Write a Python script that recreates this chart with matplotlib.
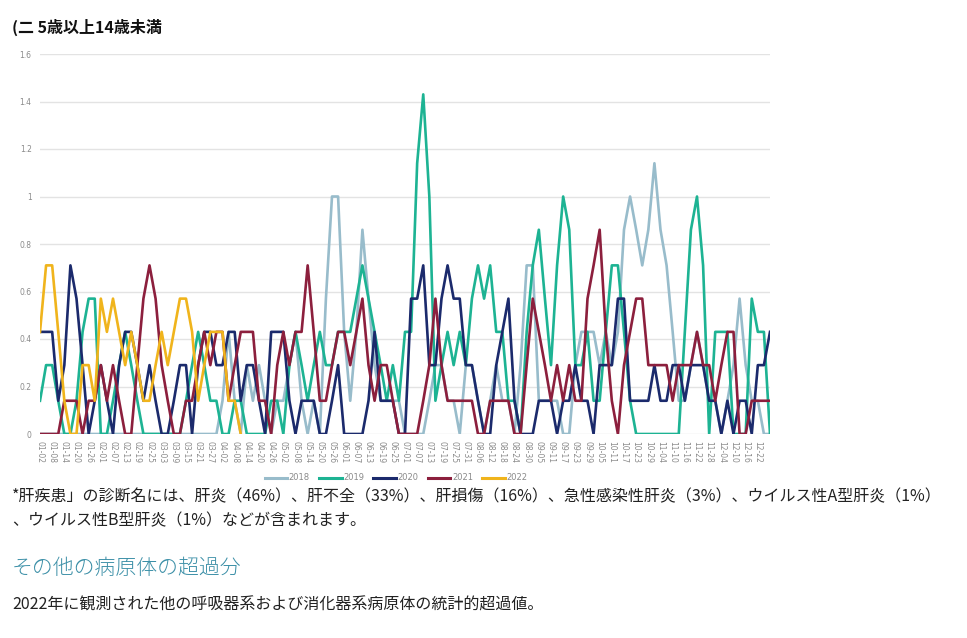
import matplotlib
matplotlib.use("Agg")
import matplotlib.pyplot as plt
import numpy as np
import pandas as pd

plt.rcParams["font.family"] = ["Noto Sans CJK JP", "DejaVu Sans"]

# 7-day averages, read every 3 days starting 01-02
years = ["2018", "2019", "2020", "2021", "2022"]
colors = ["#98bccb", "#1db393", "#1b2a6c", "#8c1f3d", "#f0b41c"]

v2018 = [0, 0, 0, 0, 0, 0, 0, 0, 0, 0,
         0, 0, 0, 0, 0, 0, 0, 0, 0, 0,
         0, 0, 0, 0, 0, 0, 0, 0, 0, 0,
         0.14, 0.43, 0.14, 0, 0.29, 0.14, 0.29, 0.14, 0, 0.14,
         0.14, 0.29, 0.43, 0.14, 0, 0.14, 0, 0.57, 1.0, 1.0,
         0.43, 0.14, 0.43, 0.86, 0.57, 0.29, 0.14, 0.14, 0.14, 0.14,
         0, 0, 0, 0, 0.14, 0.29, 0.29, 0.14, 0.14, 0,
         0.29, 0.29, 0.14, 0, 0.14, 0.29, 0.14, 0.14, 0, 0.29,
         0.71, 0.71, 0.14, 0.14, 0.14, 0.14, 0, 0, 0.29, 0.43,
         0.43, 0.43, 0.29, 0.43, 0.29, 0.43, 0.86, 1.0, 0.86, 0.71,
         0.86, 1.14, 0.86, 0.71, 0.43, 0.14, 0.14, 0.29, 0.43, 0.29,
         0.14, 0.14, 0, 0.14, 0.29, 0.57, 0.29, 0.14, 0.14, 0,
         0]
v2019 = [0.14, 0.29, 0.29, 0.14, 0, 0, 0.14, 0.43, 0.57, 0.57,
         0, 0, 0.14, 0.29, 0.43, 0.29, 0.14, 0, 0, 0,
         0, 0, 0, 0, 0.14, 0.29, 0.43, 0.29, 0.14, 0.14,
         0, 0, 0.14, 0.14, 0, 0, 0, 0, 0.14, 0.14,
         0, 0.29, 0.43, 0.29, 0.14, 0.29, 0.43, 0.29, 0.29, 0.43,
         0.43, 0.43, 0.57, 0.71, 0.57, 0.43, 0.29, 0.14, 0.29, 0.14,
         0.43, 0.43, 1.14, 1.43, 1.0, 0.14, 0.29, 0.43, 0.29, 0.43,
         0.29, 0.57, 0.71, 0.57, 0.71, 0.43, 0.43, 0.14, 0.14, 0,
         0.43, 0.71, 0.86, 0.57, 0.29, 0.71, 1.0, 0.86, 0.29, 0.29,
         0.43, 0.14, 0.14, 0.43, 0.71, 0.71, 0.43, 0.14, 0, 0,
         0, 0, 0, 0, 0, 0, 0.43, 0.86, 1.0, 0.71,
         0, 0.43, 0.43, 0.43, 0, 0, 0, 0.57, 0.43, 0.43,
         0]
v2020 = [0.43, 0.43, 0.43, 0.14, 0.29, 0.71, 0.57, 0.29, 0, 0.14,
         0.29, 0.14, 0, 0.29, 0.43, 0.43, 0.29, 0.14, 0.29, 0.14,
         0, 0, 0.14, 0.29, 0.29, 0, 0.29, 0.43, 0.43, 0.29,
         0.29, 0.43, 0.43, 0.14, 0.29, 0.29, 0.14, 0, 0.43, 0.43,
         0.43, 0.14, 0, 0.14, 0.14, 0.14, 0, 0, 0.14, 0.29,
         0, 0, 0, 0, 0.14, 0.43, 0.14, 0.14, 0.14, 0,
         0, 0.57, 0.57, 0.71, 0.29, 0.29, 0.57, 0.71, 0.57, 0.57,
         0.29, 0.29, 0.14, 0, 0, 0.29, 0.43, 0.57, 0.14, 0,
         0, 0, 0.14, 0.14, 0.14, 0, 0.14, 0.14, 0.29, 0.14,
         0.14, 0, 0.29, 0.29, 0.29, 0.57, 0.57, 0.14, 0.14, 0.14,
         0.14, 0.29, 0.14, 0.14, 0.29, 0.29, 0.14, 0.29, 0.29, 0.29,
         0.14, 0.14, 0, 0.14, 0, 0.14, 0.14, 0, 0.29, 0.29,
         0.43]
v2021 = [0, 0, 0, 0, 0.14, 0.14, 0.14, 0, 0.14, 0.14,
         0.29, 0.14, 0.29, 0.14, 0, 0, 0.29, 0.57, 0.71, 0.57,
         0.29, 0.14, 0, 0, 0.14, 0.14, 0.29, 0.43, 0.29, 0.43,
         0.43, 0.14, 0.29, 0.43, 0.43, 0.43, 0.14, 0.14, 0, 0.29,
         0.43, 0.29, 0.43, 0.43, 0.71, 0.43, 0.14, 0.14, 0.29, 0.43,
         0.43, 0.29, 0.43, 0.57, 0.29, 0.14, 0.29, 0.29, 0.14, 0,
         0, 0, 0, 0.14, 0.29, 0.57, 0.29, 0.14, 0.14, 0.14,
         0.14, 0.14, 0, 0, 0.14, 0.14, 0.14, 0.14, 0, 0,
         0.29, 0.57, 0.43, 0.29, 0.14, 0.29, 0.14, 0.29, 0.14, 0.14,
         0.57, 0.71, 0.86, 0.43, 0.14, 0, 0.29, 0.43, 0.57, 0.57,
         0.29, 0.29, 0.29, 0.29, 0.14, 0.29, 0.29, 0.29, 0.43, 0.29,
         0.29, 0.14, 0.29, 0.43, 0.43, 0, 0, 0.14, 0.14, 0.14,
         0.14]
v2022 = [0.43, 0.71, 0.71, 0.43, 0.14, 0, 0, 0.29, 0.29, 0.14,
         0.57, 0.43, 0.57, 0.43, 0.29, 0.43, 0.29, 0.14, 0.14, 0.29,
         0.43, 0.29, 0.43, 0.57, 0.57, 0.43, 0.14, 0.29, 0.43, 0.43,
         0.43, 0.14, 0.14, 0]

series = [v2018, v2019, v2020, v2021, v2022]

dates = pd.date_range("2021-01-02", periods=361, freq="D")
tick_pos = np.arange(0, 355, 6)
tick_lab = [dates[i].strftime("%m-%d") for i in tick_pos]

fig = plt.figure(figsize=(9.67, 6.38), dpi=100)
ax = fig.add_axes([40 / 967, 1 - 434 / 638, 730 / 967, 380 / 638])

for name, vals, c in zip(years, series, colors):
    x = np.arange(len(vals)) * 3
    ax.plot(x, vals, color=c, lw=1.9, label=name)

ax.set_xlim(0, 360)
ax.set_ylim(0, 1.6)
yt = [0, 0.2, 0.4, 0.6, 0.8, 1, 1.2, 1.4, 1.6]
ax.set_yticks(yt)
ax.set_yticklabels(["0", "0.2", "0.4", "0.6", "0.8", "1", "1.2", "1.4", "1.6"],
                   fontsize=5.5, color="#8a8a8a", family="DejaVu Sans")
ax.set_xticks(tick_pos)
ax.set_xticklabels(tick_lab, rotation=270, fontsize=5.5, color="#8a8a8a",
                   family="DejaVu Sans")
ax.tick_params(length=0, pad=6)
ax.tick_params(axis="x", pad=5)
ax.grid(axis="y", color="#e3e3e3", lw=1)
ax.set_axisbelow(True)
for s in ax.spines.values():
    s.set_visible(False)

leg = fig.legend(loc="center", bbox_to_anchor=(396 / 967, 1 - 478 / 638), ncol=5,
                 frameon=False, handlelength=2.7, handletextpad=0.2,
                 columnspacing=1.1, prop={"family": "DejaVu Sans", "size": 6})
for t in leg.get_texts():
    t.set_color("#8a8a8a")
for h in leg.get_lines():
    h.set_linewidth(2.2)

fig.text(12 / 967, 1 - 27 / 638, "(二 5歳以上14歳未満", fontsize=11.5, weight="bold",
         va="center", ha="left", color="#111111")
fig.text(12 / 967, 1 - 497 / 638,
         "*肝疾患」の診断名には、肝炎（46%）、肝不全（33%）、肝損傷（16%）、急性感染性肝炎（3%）、ウイルス性A型肝炎（1%）",
         fontsize=11.5, va="center", ha="left", color="#222222")
fig.text(12 / 967, 1 - 521 / 638, "、ウイルス性B型肝炎（1%）などが含まれます。",
         fontsize=11.5, va="center", ha="left", color="#222222")
fig.text(12 / 967, 1 - 568 / 638, "その他の病原体の超過分", fontsize=15,
         va="center", ha="left", color="#3b8fa7", weight="light")
fig.text(12 / 967, 1 - 605 / 638,
         "2022年に観測された他の呼吸器系および消化器系病原体の統計的超過値。",
         fontsize=11.5, va="center", ha="left", color="#222222")

fig.savefig("out.png", dpi=100)
